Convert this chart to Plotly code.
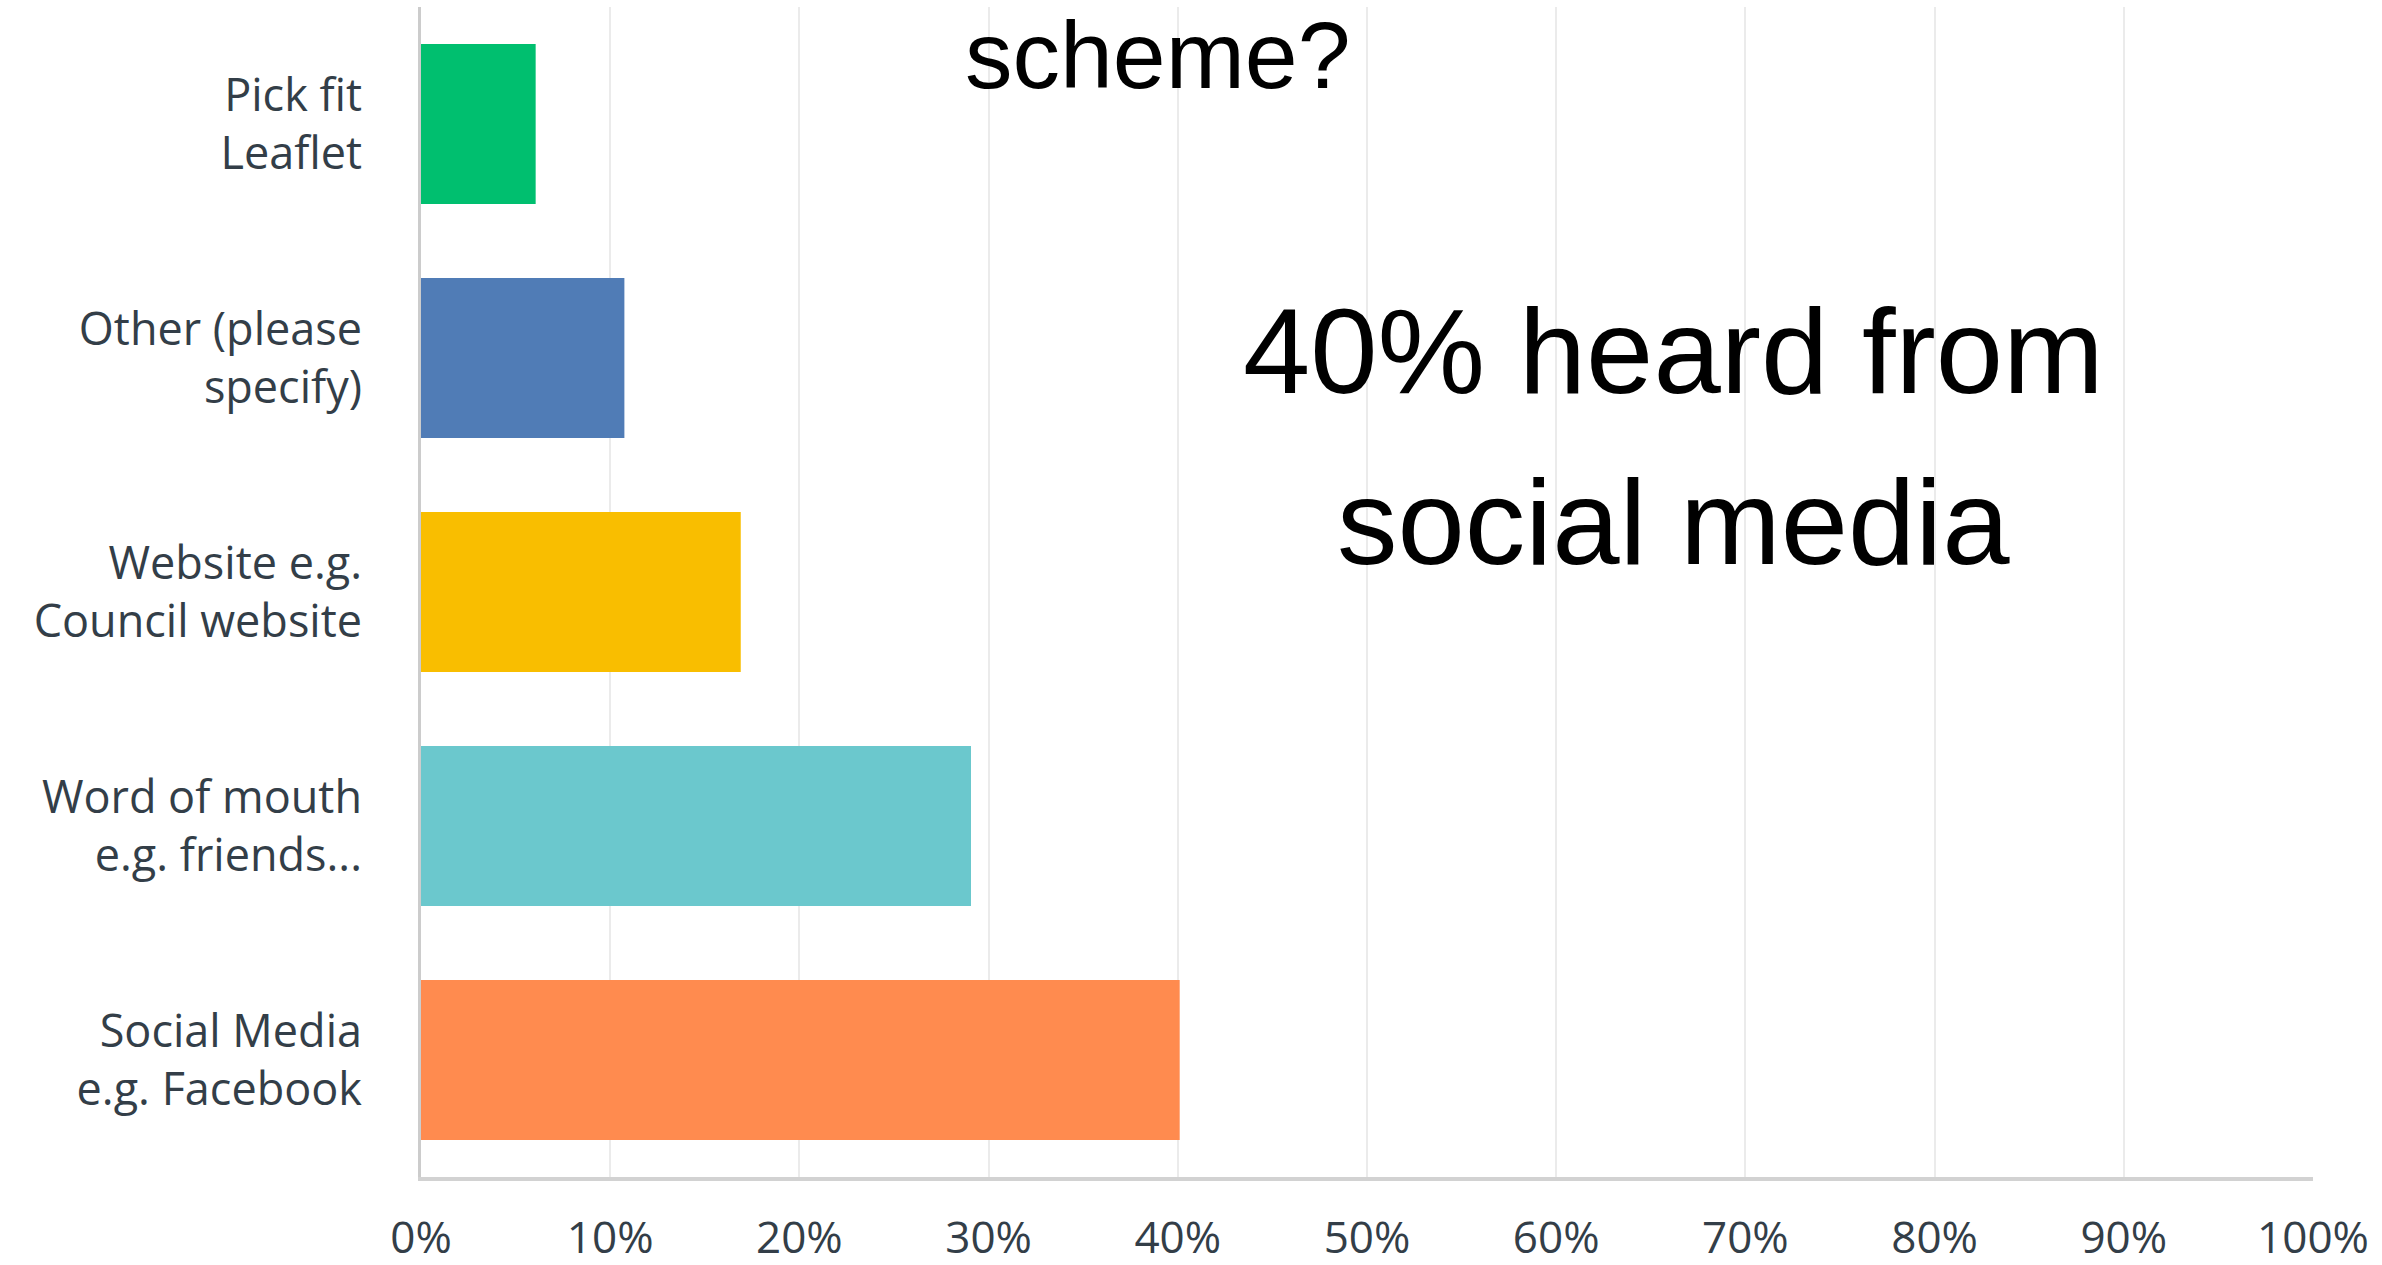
import plotly.graph_objects as go

# Survey responses: where people heard about the scheme (share of respondents, %)
categories = [
    "Pick fit<br>Leaflet",
    "Other (please<br>specify)",
    "Website e.g.<br>Council website",
    "Word of mouth<br>e.g. friends...",
    "Social Media<br>e.g. Facebook",
]
shares = [6.06, 10.75, 16.9, 29.07, 40.1]
bar_colors = ["#00bf6f", "#507cb6", "#f9be00", "#6bc8cd", "#ff8b4f"]
x_ticks = list(range(0, 101, 10))
x_tick_labels = [f"{v}%" for v in x_ticks]

W, H = 2382, 1265
L, R, T, B = 421, 69, 7, 88
plot_w = W - L - R
plot_h = H - T - B


def px_x(px):
    return (px - L) / plot_w


def px_y(py):
    return (H - B - py) / plot_h


fig = go.Figure(
    go.Bar(
        x=shares,
        y=categories,
        orientation="h",
        marker=dict(color=bar_colors, line=dict(width=0)),
        width=0.684,
        hoverinfo="skip",
    )
)

label_font = dict(family="Open Sans", size=45, color="#333e48")

fig.update_xaxes(
    range=[0, 100],
    tickvals=x_ticks,
    ticktext=x_tick_labels,
    showgrid=True,
    gridcolor="#ebebeb",
    gridwidth=2,
    zeroline=False,
    showline=True,
    linecolor="#d2d2d2",
    linewidth=4,
    ticks="outside",
    ticklen=19,
    tickcolor="rgba(0,0,0,0)",
    tickfont=dict(family="Open Sans", size=44, color="#333e48"),
    automargin=False,
    fixedrange=True,
)
fig.update_yaxes(
    range=[4.5, -0.5],
    showgrid=False,
    zeroline=False,
    showline=True,
    linecolor="#cccccc",
    linewidth=3,
    ticks="",
    ticklabelstandoff=47,
    tickfont=label_font,
    automargin=False,
    fixedrange=True,
)

headline_font = dict(family="Liberation Sans, Arial, sans-serif", color="#000000")
fig.add_annotation(
    text="scheme?", x=px_x(1157), y=px_y(0), xref="paper", yref="paper",
    xanchor="center", yanchor="top", showarrow=False,
    font=dict(size=95, **headline_font),
)
fig.add_annotation(
    text="40% heard from", x=px_x(1673), y=px_y(351), xref="paper", yref="paper",
    xanchor="center", yanchor="middle", showarrow=False,
    font=dict(size=121, **headline_font),
)
fig.add_annotation(
    text="social media", x=px_x(1673), y=px_y(522), xref="paper", yref="paper",
    xanchor="center", yanchor="middle", showarrow=False,
    font=dict(size=121, **headline_font),
)

fig.update_layout(
    width=W,
    height=H,
    margin=dict(l=L, r=R, t=T, b=B, pad=0, autoexpand=False),
    paper_bgcolor="#ffffff",
    plot_bgcolor="#ffffff",
    showlegend=False,
    bargap=0.3,
)

fig.write_html("out.html", config={"displayModeBar": False})
